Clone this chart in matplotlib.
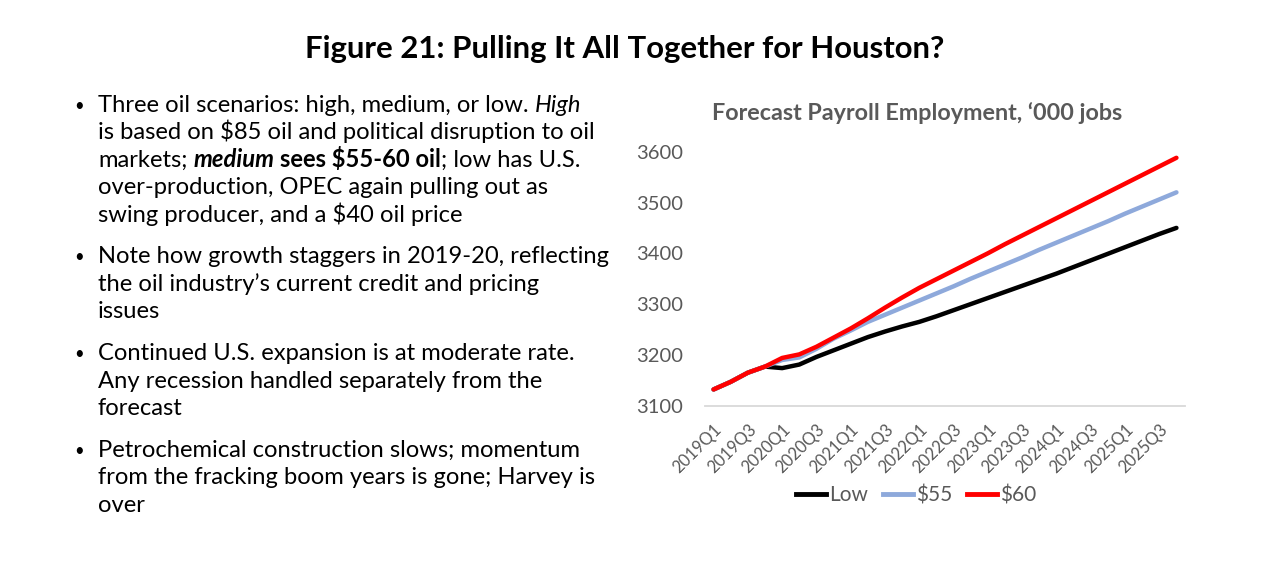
import matplotlib
matplotlib.use('Agg')
import matplotlib.pyplot as plt
from matplotlib.font_manager import FontProperties
from matplotlib.lines import Line2D

plt.rcParams['font.family'] = ['Lato', 'DejaVu Sans']

# quarterly categories, labels shown every other quarter
quarters = ['2019Q1', '2019Q2', '2019Q3', '2019Q4', '2020Q1', '2020Q2', '2020Q3', '2020Q4',
            '2021Q1', '2021Q2', '2021Q3', '2021Q4', '2022Q1', '2022Q2', '2022Q3', '2022Q4',
            '2023Q1', '2023Q2', '2023Q3', '2023Q4', '2024Q1', '2024Q2', '2024Q3', '2024Q4',
            '2025Q1', '2025Q2', '2025Q3', '2025Q4']

low = [3132, 3147, 3165, 3177, 3174, 3181, 3196, 3209, 3222, 3235, 3246, 3256, 3265, 3276,
       3288, 3300, 3312, 3324, 3336, 3348, 3360, 3373, 3386, 3399, 3412, 3425, 3438, 3450]
oil55 = [3132, 3147, 3165, 3177, 3190, 3195, 3212, 3232, 3248, 3265, 3279, 3293, 3307, 3321,
         3335, 3350, 3364, 3378, 3392, 3407, 3421, 3435, 3449, 3463, 3478, 3492, 3506, 3520]
oil60 = [3132, 3147, 3165, 3177, 3194, 3201, 3216, 3234, 3252, 3272, 3293, 3313, 3332, 3349,
         3366, 3383, 3400, 3418, 3435, 3452, 3469, 3486, 3503, 3520, 3537, 3554, 3571, 3588]

series_names = ['Low', '$55', '$60']
series_colors = ['#000000', '#8EA9DB', '#FF0000']

W, H = 1280, 570
fig = plt.figure(figsize=(W / 100, H / 100), dpi=100)
GREY = '#595959'


def fx(px):
    return px / W


def fy(py):
    return 1 - py / H


fig.text(fx(625), fy(58), 'Figure 21: Pulling It All Together for Houston?',
         ha='center', va='baseline', fontsize=22.4, fontweight='bold', color='black')

# ---- bullet text on the left ----
TXT = 17.1
renderer = fig.canvas.get_renderer()


def text_w(s, fp):
    t = fig.text(0, 0, s, fontproperties=fp, parse_math=False)
    w = t.get_window_extent(renderer).width
    t.remove()
    return w


def draw_runs(runs, x, y):
    for s, style, weight in runs:
        fp = FontProperties(family=['Lato', 'DejaVu Sans'], size=TXT, style=style, weight=weight)
        sp = text_w('a a', fp) - text_w('aa', fp)
        if s.startswith(' '):
            x += sp
        core = s.strip()
        fig.text(fx(x), fy(y), core, fontproperties=fp, va='baseline', ha='left', parse_math=False)
        x += text_w(core, fp)
        if s.endswith(' '):
            x += sp


N = ('normal', 'normal')
bullets = [
    [[('Three oil scenarios: high, medium, or low. ', *N), ('High', 'italic', 'normal')],
     [('is based on $85 oil and political disruption to oil', *N)],
     [('markets; ', *N), ('medium', 'italic', 'bold'), (' sees $55-60 oil', 'normal', 'bold'),
      ('; low has U.S.', *N)],
     [('over-production, OPEC again pulling out as', *N)],
     [('swing producer, and a $40 oil price', *N)]],
    [[('Note how growth staggers in 2019-20, reflecting', *N)],
     [('the oil industry\u2019s current credit and pricing', *N)],
     [('issues', *N)]],
    [[('Continued U.S. expansion is at moderate rate.', *N)],
     [('Any recession handled separately from the', *N)],
     [('forecast', *N)]],
    [[('Petrochemical construction slows; momentum', *N)],
     [('from the fracking boom years is gone; Harvey is', *N)],
     [('over', *N)]],
]
first_baselines = [111.7, 263.3, 360, 456.7]
for lines, y0 in zip(bullets, first_baselines):
    fig.text(fx(74), fy(y0 - 1), '\u2022', fontsize=12, va='baseline', ha='left')
    for k, runs in enumerate(lines):
        draw_runs(runs, 98, y0 + k * 27.5)

# ---- chart ----
fig.text(fx(917), fy(120), 'Forecast Payroll Employment, \u2018000 jobs', ha='center', va='baseline',
         fontsize=16.8, fontweight='bold', color=GREY)

ax = fig.add_axes([fx(705), fy(405.7), fx(1185) - fx(705), fy(151.7) - fy(405.7)])
x = range(len(quarters))
for vals, name, col in zip([low, oil55, oil60], series_names, series_colors):
    ax.plot(x, vals, color=col, lw=3.2, solid_capstyle='round', label=name)

ax.set_xlim(-0.5, len(quarters) - 0.5)
ax.set_ylim(3100, 3600)
ax.set_yticks(range(3100, 3601, 100))
ax.set_xticks(list(x)[::2])
ax.set_xticklabels(quarters[::2], rotation=45, ha='right', va='top', rotation_mode='anchor')
for s in ['top', 'right', 'left']:
    ax.spines[s].set_visible(False)
ax.spines['bottom'].set_color('#D9D9D9')
ax.spines['bottom'].set_linewidth(1.3)
ax.tick_params(axis='y', length=0, pad=16, labelsize=14.5, labelcolor=GREY)
ax.tick_params(axis='x', length=0, pad=11, labelsize=12, labelcolor=GREY)

handles = [Line2D([0], [0], color=c, lw=3.5) for c in series_colors]
fig.legend(handles, series_names, loc='center', bbox_to_anchor=(fx(916), fy(495)), ncol=3,
           frameon=False, fontsize=15, labelcolor=GREY, handlelength=1.45, handletextpad=0.15,
           columnspacing=0.7)

fig.savefig('out.png', dpi=100)
